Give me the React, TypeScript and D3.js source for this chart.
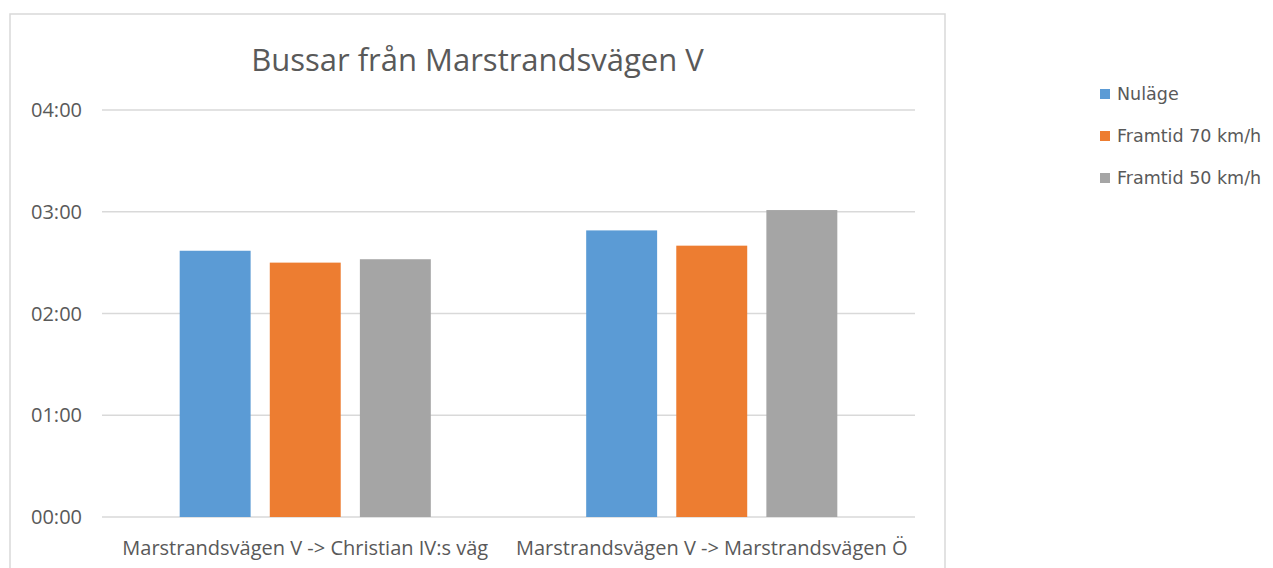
import React from 'react';
import * as d3 from 'd3';

// travel times in seconds (shown as mm:ss)
const categories = ['Marstrandsvägen V -> Christian IV:s väg', 'Marstrandsvägen V -> Marstrandsvägen Ö'];
const seriesNames = ['Nuläge', 'Framtid 70 km/h', 'Framtid 50 km/h'];
const nulage = [157, 169];
const framtid70 = [150, 160];
const framtid50 = [152, 181];
const tickValues = [0, 60, 120, 180, 240];
const colors = ['#5B9BD5', '#ED7D31', '#A5A5A5'];

const W = 1273;
const H = 568;
const font = '"Open Sans", "Noto Sans", sans-serif';

const fmt = (s: number) => {
  const m = Math.floor(s / 60);
  const sec = s % 60;
  return `${String(m).padStart(2, '0')}:${String(sec).padStart(2, '0')}`;
};

const App: React.FC = () => {
  const plot = { left: 102, right: 915, top: 110, bottom: 517 };
  const values = [nulage, framtid70, framtid50];

  const y = d3.scaleLinear().domain([0, 240]).range([plot.bottom, plot.top]);
  const x0 = d3.scaleBand<string>().domain(categories).range([plot.left, plot.right]);

  // excel-style: gap width 219%, overlap -27%
  const bw = x0.bandwidth() / (3 + 2 * 0.27 + 2.19);
  const inner = 3 * bw + 2 * 0.27 * bw;
  const x1 = d3
    .scaleBand<string>()
    .domain(seriesNames)
    .range([(x0.bandwidth() - inner) / 2, (x0.bandwidth() + inner) / 2])
    .paddingInner(0.27 / 1.27);

  return (
    <svg width={W} height={H} style={{ position: 'absolute', left: 0, top: 0, background: '#fff' }}>
      <rect x={10} y={14} width={935} height={H} fill="#fff" stroke="#D9D9D9" strokeWidth={1.5} />
      <text x={477.5} y={71} textAnchor="middle" fontFamily={font} fontSize={31} fill="#595959">
        Bussar från Marstrandsvägen V
      </text>

      {tickValues.map((t) => (
        <g key={t}>
          <line x1={plot.left} x2={plot.right} y1={y(t)} y2={y(t)} stroke="#D9D9D9" strokeWidth={1.5} />
          <text x={82} y={y(t)} dy="0.35em" textAnchor="end" fontFamily={font} fontSize={20} fill="#595959">
            {fmt(t)}
          </text>
        </g>
      ))}

      {categories.map((c, ci) => (
        <g key={c} transform={`translate(${x0(c)},0)`}>
          {seriesNames.map((s, si) => (
            <rect
              key={s}
              x={x1(s)}
              y={y(values[si][ci])}
              width={x1.bandwidth()}
              height={y(0) - y(values[si][ci])}
              fill={colors[si]}
            />
          ))}
          <text
            x={x0.bandwidth() / 2}
            y={555}
            textAnchor="middle"
            fontFamily={font}
            fontSize={20}
            fill="#595959"
          >
            {c}
          </text>
        </g>
      ))}

      {seriesNames.map((s, i) => (
        <g key={s} transform={`translate(1100,${94 + i * 42})`}>
          <rect x={0} y={-5} width={10} height={10} fill={colors[i]} />
          <text x={17} y={0} dy="0.35em" fontFamily='"DejaVu Sans", sans-serif' fontSize={17.5} fill="#595959">
            {s}
          </text>
        </g>
      ))}
    </svg>
  );
};

export default App;
